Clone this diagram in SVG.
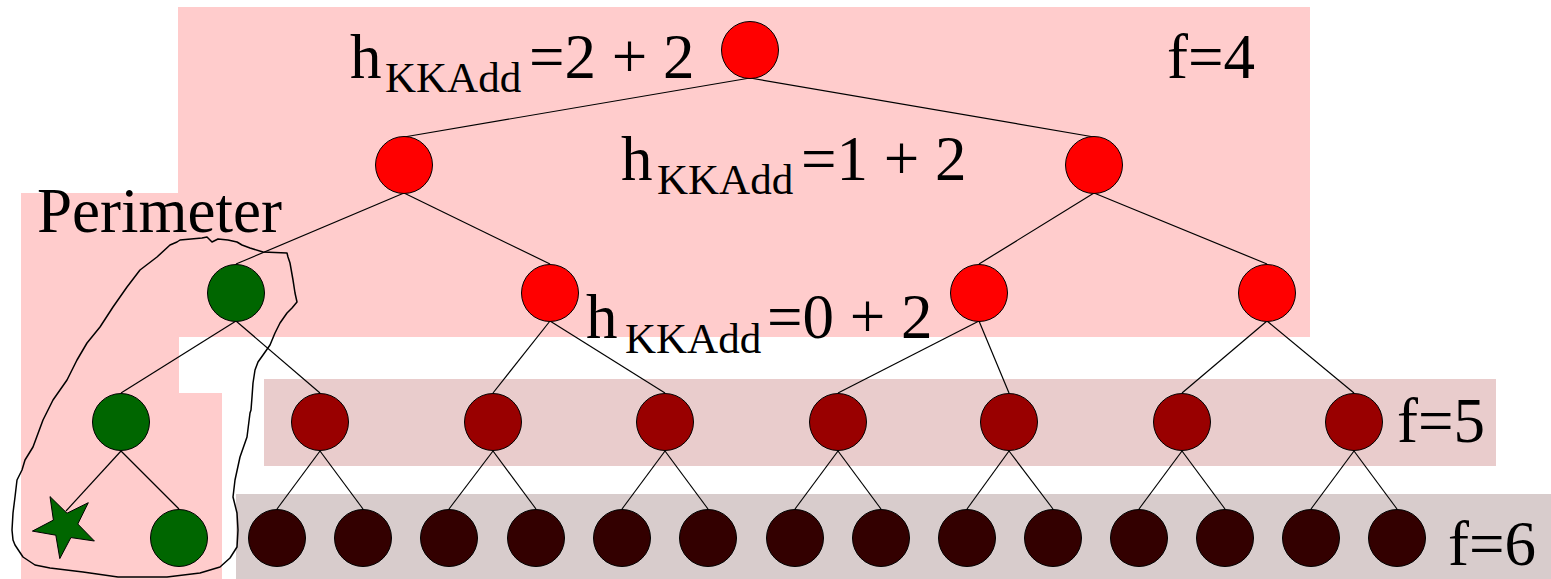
<svg xmlns="http://www.w3.org/2000/svg" width="1551" height="579" viewBox="0 0 1551 579">
<style>
.t{font-family:"Liberation Serif","Times New Roman",serif;fill:#000}
.big{font-size:63px}
.sub{font-size:43px}
.edge{stroke:#000;stroke-width:1.2;fill:none}
.n{stroke:#000;stroke-width:1}
.red{fill:#ff0000}
.dred{fill:#990000}
.dark{fill:#330000}
.green{fill:#006600}
</style>
<g id="backgrounds">
<rect x="178" y="7" width="1132" height="330" fill="#ffcccc"/>
<rect x="21" y="193" width="158" height="386" fill="#ffcccc"/>
<rect x="179" y="393" width="43" height="186" fill="#ffcccc"/>
<rect x="264" y="379" width="1232" height="87" fill="#e9cccc"/>
<rect x="236" y="494" width="1315" height="85" fill="#d8cccc"/>
</g>
<g id="perimeter">
<path d="M177,242 L180,240 L202,238 L207,237 L212,242 L218,239 L228,240 L237,242 L242,245 L250,248 L263,252 L287,253 L288,257 L290,263 L293,280 L295,293 L297,302 L292,308 L287,313 L280,323 L275,333 L270,345 L263,355 L258,362 L255,370 L253,383 L252,397 L251,410 L250,413 L247,437 L240,457 L235,480 L233,497 L237,513 L238,530 L237,547 L230,558 L220,567 L200,573 L167,577 L118,577 L83,572 L50,568 L35,565 L23,557 L15,545 L13,540 L12,530 L13,513 L15,497 L17,480 L22,470 L25,460 L33,447 L43,420 L53,400 L67,380 L77,360 L87,343 L100,327 L113,307 L127,287 L140,270 L157,257 L170,245 Z" fill="none" stroke="#000" stroke-width="1.5" stroke-linejoin="round"/>
<text class="t big" x="37" y="232">Perimeter</text>
</g>
<g id="connectors">
<line class="edge" x1="750" y1="78" x2="404" y2="137"/>
<line class="edge" x1="750" y1="78" x2="1094" y2="137"/>
<line class="edge" x1="404" y1="193" x2="236" y2="264"/>
<line class="edge" x1="404" y1="193" x2="550" y2="264"/>
<line class="edge" x1="1094" y1="193" x2="979" y2="264"/>
<line class="edge" x1="1094" y1="193" x2="1267" y2="264"/>
<line class="edge" x1="236" y1="321" x2="121" y2="393"/>
<line class="edge" x1="236" y1="321" x2="320" y2="393"/>
<line class="edge" x1="550" y1="321" x2="493" y2="393"/>
<line class="edge" x1="550" y1="321" x2="665" y2="393"/>
<line class="edge" x1="979" y1="321" x2="838" y2="393"/>
<line class="edge" x1="979" y1="321" x2="1009" y2="393"/>
<line class="edge" x1="1267" y1="321" x2="1182" y2="393"/>
<line class="edge" x1="1267" y1="321" x2="1354" y2="393"/>
<line class="edge" x1="121" y1="451" x2="66" y2="511"/>
<line class="edge" x1="121" y1="451" x2="179" y2="509"/>
<line class="edge" x1="320" y1="451" x2="277" y2="509"/>
<line class="edge" x1="320" y1="451" x2="363" y2="509"/>
<line class="edge" x1="493" y1="451" x2="449" y2="509"/>
<line class="edge" x1="493" y1="451" x2="536" y2="509"/>
<line class="edge" x1="665" y1="451" x2="622" y2="509"/>
<line class="edge" x1="665" y1="451" x2="708" y2="509"/>
<line class="edge" x1="838" y1="451" x2="795" y2="509"/>
<line class="edge" x1="838" y1="451" x2="881" y2="509"/>
<line class="edge" x1="1009" y1="451" x2="967" y2="509"/>
<line class="edge" x1="1009" y1="451" x2="1053" y2="509"/>
<line class="edge" x1="1182" y1="451" x2="1139" y2="509"/>
<line class="edge" x1="1182" y1="451" x2="1225" y2="509"/>
<line class="edge" x1="1354" y1="451" x2="1311" y2="509"/>
<line class="edge" x1="1354" y1="451" x2="1397" y2="509"/>
</g>
<g id="root"><circle class="n red" cx="750" cy="50" r="28.5"/></g>
<g id="n1a"><circle class="n red" cx="404" cy="165" r="28.5"/></g>
<g id="n1b"><circle class="n red" cx="1094" cy="165" r="28.5"/></g>
<g id="n2a"><circle class="n green" cx="236" cy="293" r="28.5"/></g>
<g id="n2b"><circle class="n red" cx="550" cy="293" r="28.5"/></g>
<g id="n2c"><circle class="n red" cx="979" cy="293" r="28.5"/></g>
<g id="n2d"><circle class="n red" cx="1267" cy="293" r="28.5"/></g>
<g id="n3a"><circle class="n green" cx="121" cy="422" r="28.5"/></g>
<g id="n3b"><circle class="n dred" cx="320" cy="422" r="28.5"/></g>
<g id="n3c"><circle class="n dred" cx="493" cy="422" r="28.5"/></g>
<g id="n3d"><circle class="n dred" cx="665" cy="422" r="28.5"/></g>
<g id="n3e"><circle class="n dred" cx="838" cy="422" r="28.5"/></g>
<g id="n3f"><circle class="n dred" cx="1009" cy="422" r="28.5"/></g>
<g id="n3g"><circle class="n dred" cx="1182" cy="422" r="28.5"/></g>
<g id="n3h"><circle class="n dred" cx="1354" cy="422" r="28.5"/></g>
<g id="goal"><polygon class="n green" points="50,496.6 67,513.2 88.3,502.7 77.8,524 94.4,541 70.9,537.6 59.8,558.6 55.8,535.2 32.4,531.1 53.4,520.1"/></g>
<g id="n4b"><circle class="n green" cx="179" cy="538" r="28.5"/></g>
<g id="n4c"><circle class="n dark" cx="277" cy="538" r="28.5"/></g>
<g id="n4d"><circle class="n dark" cx="363" cy="538" r="28.5"/></g>
<g id="n4e"><circle class="n dark" cx="449" cy="538" r="28.5"/></g>
<g id="n4f"><circle class="n dark" cx="536" cy="538" r="28.5"/></g>
<g id="n4g"><circle class="n dark" cx="622" cy="538" r="28.5"/></g>
<g id="n4h"><circle class="n dark" cx="708" cy="538" r="28.5"/></g>
<g id="n4i"><circle class="n dark" cx="795" cy="538" r="28.5"/></g>
<g id="n4j"><circle class="n dark" cx="881" cy="538" r="28.5"/></g>
<g id="n4k"><circle class="n dark" cx="967" cy="538" r="28.5"/></g>
<g id="n4l"><circle class="n dark" cx="1053" cy="538" r="28.5"/></g>
<g id="n4m"><circle class="n dark" cx="1139" cy="538" r="28.5"/></g>
<g id="n4n"><circle class="n dark" cx="1225" cy="538" r="28.5"/></g>
<g id="n4o"><circle class="n dark" cx="1311" cy="538" r="28.5"/></g>
<g id="n4p"><circle class="n dark" cx="1397" cy="538" r="28.5"/></g>
<g id="labels">
<text class="t big" x="350" y="78">h</text><text class="t sub" x="385" y="92">KKAdd</text><text class="t big" x="529" y="78">=2 + 2</text>
<text class="t big" x="621" y="180">h</text><text class="t sub" x="657" y="194">KKAdd</text><text class="t big" x="801" y="180">=1 + 2</text>
<text class="t big" x="586" y="338">h</text><text class="t sub" x="625" y="353">KKAdd</text><text class="t big" x="767" y="338">=0 + 2</text>
<text class="t big" x="1167" y="78">f=4</text>
<text class="t big" x="1397" y="442">f=5</text>
<text class="t big" x="1448" y="565">f=6</text>
</g>
</svg>
